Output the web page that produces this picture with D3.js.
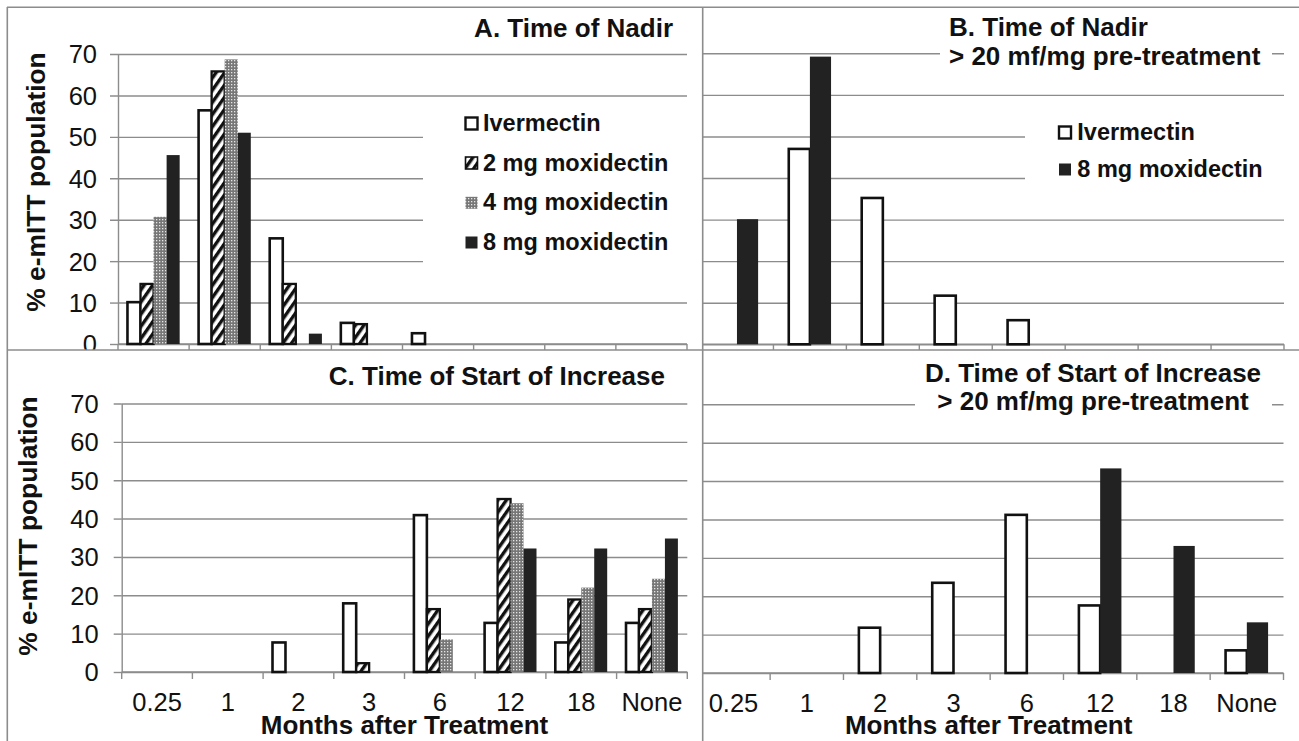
<!DOCTYPE html>
<html>
<head>
<meta charset="utf-8">
<script src="https://cdn.jsdelivr.net/npm/d3@7"></script>
<style>
  html, body { margin: 0; padding: 0; background: #fff; }
  svg { display: block; font-family: "Liberation Sans", Arial, sans-serif; }
</style>
</head>
<body>
<svg id="chart" width="1299" height="741"></svg>
<script>
// Months after treatment (category axis shared by all four panels)
const categories = ["0.25", "1", "2", "3", "6", "12", "18", "None"];
const yTicks = [0, 10, 20, 30, 40, 50, 60, 70];
const seriesNames = ["Ivermectin", "2 mg moxidectin", "4 mg moxidectin", "8 mg moxidectin"];

// A. Time of nadir, whole e-mITT population (%)
const iverNadir = [10.1, 56.4, 25.5, 5.1, 2.6, 0, 0, 0];
const mox2Nadir = [14.5, 65.8, 14.5, 4.8, 0, 0, 0, 0];
const mox4Nadir = [30.7, 68.7, 0, 0, 0, 0, 0, 0];
const mox8Nadir = [45.6, 51.0, 2.5, 0, 0, 0, 0, 0];

// B. Time of nadir, > 20 mf/mg pre-treatment (%)
const iverNadirHigh = [0, 47.0, 35.2, 11.7, 5.8, 0, 0, 0];
const mox8NadirHigh = [30.1, 69.2, 0, 0, 0, 0, 0, 0];

// C. Time of start of increase, whole e-mITT population (%)
const iverIncrease = [0, 0, 7.7, 17.9, 40.9, 12.8, 7.7, 12.8];
const mox2Increase = [0, 0, 0, 2.3, 16.4, 45.1, 18.9, 16.4];
const mox4Increase = [0, 0, 0, 0, 8.5, 44.0, 22.0, 24.3];
const mox8Increase = [0, 0, 0, 0, 0, 32.2, 32.2, 34.8];

// D. Time of start of increase, > 20 mf/mg pre-treatment (%)
const iverIncreaseHigh = [0, 0, 11.8, 23.5, 41.2, 17.6, 0, 5.9];
const mox8IncreaseHigh = [0, 0, 0, 0, 0, 53.3, 33.1, 13.2];

const svg = d3.select("#chart");
const GRID = "#8c8c8c";
const INK = "#111";

// Fill patterns for the moxidectin doses
const defs = svg.append("defs");
const hatch = defs.append("pattern")
  .attr("id", "hatch").attr("patternUnits", "userSpaceOnUse")
  .attr("width", 7).attr("height", 7)
  .attr("patternTransform", "rotate(35)");
hatch.append("rect").attr("width", 7).attr("height", 7).attr("fill", "#fff");
hatch.append("rect").attr("width", 3.4).attr("height", 7).attr("fill", "#111");

const dots = defs.append("pattern")
  .attr("id", "dots").attr("patternUnits", "userSpaceOnUse")
  .attr("width", 3).attr("height", 3);
dots.append("rect").attr("width", 3).attr("height", 3).attr("fill", "#777");
dots.append("rect").attr("x", 0).attr("y", 0).attr("width", 1.3).attr("height", 1.3).attr("fill", "#e6e6e6");

const seriesStyle = [
  { fill: "#fff", stroke: INK, sw: 2.6 },
  { fill: "url(#hatch)", stroke: INK, sw: 2.3 },
  { fill: "url(#dots)", stroke: "none", sw: 0 },
  { fill: "#222", stroke: "none", sw: 0 }
];

const panels = [
  {
    id: "A", cell: [7, 7, 702.5, 350],
    x0: 118, x1: 687, yBase: 344, yTop: 54,
    values: [iverNadir, mox2Nadir, mox4Nadir, mox8Nadir], series: [0, 1, 2, 3],
    yLabels: true, xLabels: false, yTitle: { x: 45, y: 182 },
    title: { lines: ["A. Time of Nadir"], x: 673, y: [36.7], anchor: "end" },
    legend: { box: [423, 103, 690, 292], sx: 465, tx: 483, base: [131, 170.5, 210.3, 250] }
  },
  {
    id: "B", cell: [702.5, 7, 1299, 350],
    x0: 700.5, x1: 1284, yBase: 344.3, yTop: 53.3,
    values: [iverNadirHigh, mox8NadirHigh], series: [0, 3],
    yLabels: false, xLabels: false,
    title: { lines: ["B. Time of Nadir", "> 20 mf/mg pre-treatment"], x: 949, y: [35.5, 65], anchor: "start",
             box: [940, 14, 1272, 76] },
    legend: { box: [1025, 110, 1290, 200], sx: 1058.5, tx: 1077.3, base: [140, 177] }
  },
  {
    id: "C", cell: [7, 350, 702.5, 741],
    x0: 121.7, x1: 687.3, yBase: 672, yTop: 403.5,
    values: [iverIncrease, mox2Increase, mox4Increase, mox8Increase], series: [0, 1, 2, 3],
    yLabels: true, xLabels: true, yTitle: { x: 36.5, y: 526 },
    title: { lines: ["C. Time of Start of Increase"], x: 665, y: [385], anchor: "end" }
  },
  {
    id: "D", cell: [702.5, 350, 1299, 741],
    x0: 696.8, x1: 1283.5, yBase: 673, yTop: 404.3,
    values: [iverIncreaseHigh, mox8IncreaseHigh], series: [0, 3],
    yLabels: false, xLabels: true,
    title: { lines: ["D. Time of Start of Increase", "> 20 mf/mg pre-treatment"], x: 1093, y: [381.7, 410], anchor: "middle",
             box: [915, 360, 1272, 421] }
  }
];

panels.forEach(p => {
  const [cx0, cy0, cx1, cy1] = p.cell;
  defs.append("clipPath").attr("id", "clip" + p.id)
    .append("rect").attr("x", cx0).attr("y", cy0).attr("width", cx1 - cx0).attr("height", cy1 - cy0);
  const g = svg.append("g").attr("clip-path", `url(#clip${p.id})`);

  const x = d3.scaleBand().domain(categories).range([p.x0, p.x1]).paddingInner(0).paddingOuter(0);
  const y = d3.scaleLinear().domain([0, 70]).range([p.yBase, p.yTop]);
  const nS = p.series.length;
  const gapRatio = 1.45;
  const groupW = x.bandwidth() * nS / (nS + gapRatio);
  const xs = d3.scaleBand().domain(d3.range(nS)).range([(x.bandwidth() - groupW) / 2, (x.bandwidth() + groupW) / 2]);

  // Horizontal gridlines
  const gridAxis = d3.axisLeft(y).tickValues(yTicks).tickSize(-(p.x1 - p.x0)).tickFormat("");
  g.append("g").attr("transform", `translate(${p.x0},0)`).call(gridAxis)
    .call(s => s.select(".domain").remove())
    .call(s => s.selectAll("line").attr("stroke", GRID).attr("stroke-width", 1.4));

  // Y axis with outward ticks and labels
  const yAxis = d3.axisLeft(y).tickValues(yTicks).tickSizeInner(8).tickSizeOuter(0).tickPadding(p.id === "A" ? 13 : 15);
  if (!p.yLabels) yAxis.tickFormat("");
  g.append("g").attr("transform", `translate(${p.x0},0)`).call(yAxis)
    .call(s => s.select(".domain").attr("stroke", GRID).attr("stroke-width", 1.4))
    .call(s => s.selectAll("line").attr("stroke", GRID).attr("stroke-width", 1.4))
    .call(s => s.selectAll("text").attr("fill", INK).attr("font-size", 25.5).attr("font-family", "Liberation Sans, Arial, sans-serif").attr("dy", "0.35em"));

  // X axis: ticks between categories
  const bounds = categories.map(c => x(c)).concat([p.x1]);
  const xAxisG = g.append("g");
  xAxisG.append("line").attr("x1", p.x0).attr("x2", p.x1).attr("y1", p.yBase).attr("y2", p.yBase)
    .attr("stroke", GRID).attr("stroke-width", 1.6);
  xAxisG.selectAll("line.tick").data(bounds).join("line").attr("class", "tick")
    .attr("x1", d => d).attr("x2", d => d).attr("y1", p.yBase).attr("y2", p.yBase + 7)
    .attr("stroke", GRID).attr("stroke-width", 1.4);
  if (p.xLabels) {
    xAxisG.selectAll("text.cat").data(categories).join("text").attr("class", "cat")
      .attr("x", d => x(d) + x.bandwidth() / 2).attr("y", p.yBase + 39)
      .attr("text-anchor", "middle").attr("font-size", 25.5).attr("fill", INK).text(d => d);
    g.append("text").attr("x", (p.x0 + p.x1) / 2 + (p.id === "D" ? -1.5 : 0)).attr("y", 733.5)
      .attr("text-anchor", "middle").attr("font-size", 26).attr("font-weight", "bold").attr("fill", INK)
      .text("Months after Treatment");
  }

  if (p.yTitle) {
    g.append("text").attr("transform", `translate(${p.yTitle.x},${p.yTitle.y}) rotate(-90)`)
      .attr("text-anchor", "middle").attr("font-size", 26.4).attr("font-weight", "bold").attr("fill", INK)
      .text("% e-mITT population");
  }

  // Bars
  p.series.forEach((sIdx, k) => {
    const st = seriesStyle[sIdx];
    const rows = categories.map((c, i) => ({ c, v: p.values[k][i] })).filter(d => d.v > 0);
    g.append("g").selectAll("rect").data(rows).join("rect")
      .attr("x", d => x(d.c) + xs(k))
      .attr("width", xs.bandwidth())
      .attr("y", d => y(d.v))
      .attr("height", d => y(0) - y(d.v))
      .attr("fill", st.fill)
      .attr("stroke", st.stroke)
      .attr("stroke-width", st.sw);
  });

  // Title (with white backing where it crosses gridlines)
  if (p.title.box) {
    const b = p.title.box;
    g.append("rect").attr("x", b[0]).attr("y", b[1]).attr("width", b[2] - b[0]).attr("height", b[3] - b[1]).attr("fill", "#fff");
  }
  p.title.lines.forEach((t, i) => {
    g.append("text").attr("x", p.title.x).attr("y", p.title.y[i])
      .attr("text-anchor", p.title.anchor).attr("font-size", 26).attr("font-weight", "bold").attr("fill", INK)
      .text(t);
  });

  // Legend
  if (p.legend) {
    const L = p.legend;
    g.append("rect").attr("x", L.box[0]).attr("y", L.box[1]).attr("width", L.box[2] - L.box[0]).attr("height", L.box[3] - L.box[1]).attr("fill", "#fff");
    p.series.forEach((sIdx, k) => {
      const st = seriesStyle[sIdx];
      const sz = 12;
      g.append("rect").attr("x", L.sx + 0.5).attr("y", L.base[k] - 13.5).attr("width", sz).attr("height", sz)
        .attr("fill", st.fill).attr("stroke", sIdx === 0 || sIdx === 1 ? INK : "none").attr("stroke-width", sIdx === 0 ? 2.4 : 1.6);
      g.append("text").attr("x", L.tx).attr("y", L.base[k])
        .attr("font-size", 23.5).attr("font-weight", "bold").attr("fill", INK)
        .text(seriesNames[sIdx]);
    });
  }
});

// Panel frame
const frame = svg.append("g").attr("stroke", GRID).attr("stroke-width", 1.6);
frame.append("line").attr("x1", 7).attr("x2", 1299).attr("y1", 7.3).attr("y2", 7.3);
frame.append("line").attr("x1", 7.3).attr("x2", 7.3).attr("y1", 7).attr("y2", 741);
frame.append("line").attr("x1", 702.7).attr("x2", 702.7).attr("y1", 7).attr("y2", 741);
frame.append("line").attr("x1", 7).attr("x2", 1299).attr("y1", 350).attr("y2", 350);
</script>
</body>
</html>
